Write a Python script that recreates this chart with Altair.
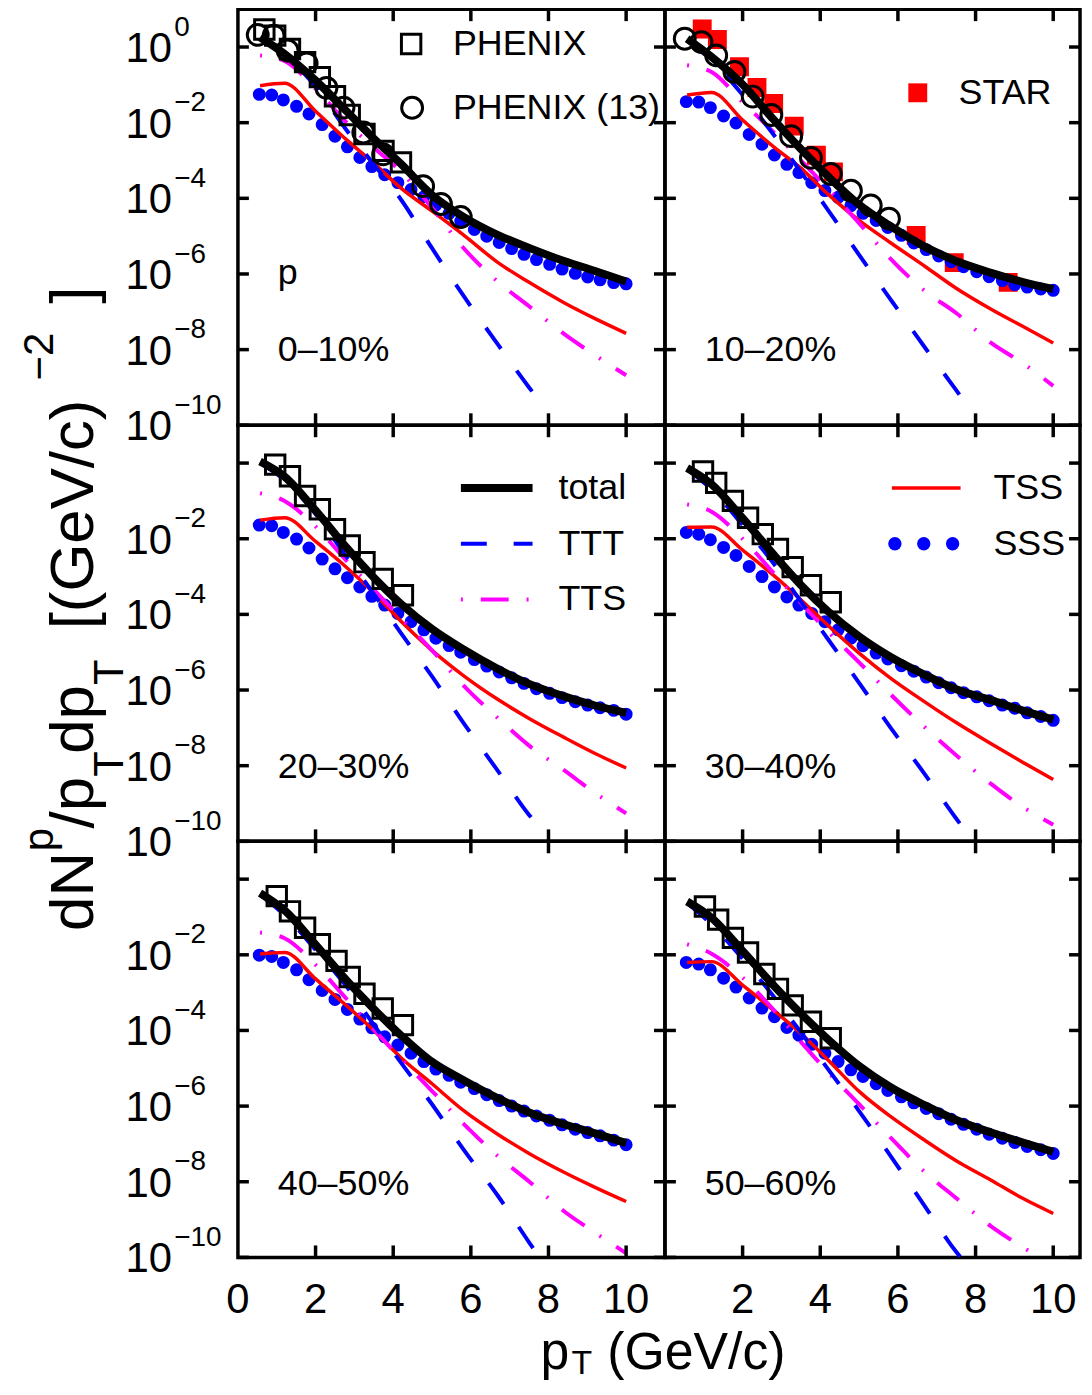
import altair as alt
import pandas as pd

FONT = "Liberation Sans"
WL, WR, H = 429, 417, 418
BLUE, RED, MAGENTA = "#0000ff", "#ff0000", "#ff00ff"

# ---------------- data ----------------
LINE_PT = [0.57, 1.2, 2.0, 2.8, 3.5, 4.2, 5.0, 5.8, 6.7, 7.5, 8.4, 9.2, 10.0]
SSS_PT = [0.55, 0.87, 1.17, 1.51, 1.83, 2.17, 2.5, 2.82, 3.14, 3.45, 3.78, 4.12, 4.46, 4.79, 5.1,
          5.44, 5.74, 6.09, 6.41, 6.73, 7.05, 7.37, 7.69, 8.03, 8.35, 8.69, 9.01, 9.33, 9.68, 10.0]

# 0-10%
TOTAL_A = [1.8, 0.66, 0.13, 0.020, 3.8e-3, 8.1e-4, 1.23e-4, 3.3e-5, 1.07e-5, 4.9e-6, 2.2e-6, 1.2e-6, 6.3e-7]
TTT_PT_A = [0.57, 1.2, 2.0, 2.8, 3.5, 4.2, 5.0, 5.8, 6.7, 7.5, 7.8]
TTT_A = [1.66, 0.63, 0.089, 6.3e-3, 7.9e-4, 9.3e-5, 4.8e-6, 2.75e-7, 1.35e-8, 1.0e-9, 4.0e-10]
TTS_A = [0.60, 0.43, 0.079, 0.010, 2.2e-3, 5.0e-4, 5.6e-5, 5.0e-6, 6.2e-7, 1.4e-7, 2.6e-8, 7.1e-9, 2.1e-9]
TSS_A = [0.095, 0.11, 0.020, 3.5e-3, 8.5e-4, 1.86e-4, 4.6e-5, 1.1e-5, 2.0e-6, 6.0e-7, 1.74e-7, 6.6e-8, 2.7e-8]
SSS_A = [5.6e-2, 5.4e-2, 4.0e-2, 2.7e-2, 1.7e-2, 8.9e-3, 4.4e-3, 2.3e-3, 1.2e-3, 6.9e-4, 4.2e-4, 2.6e-4,
         1.7e-4, 1.1e-4, 6.7e-5, 4.0e-5, 2.5e-5, 1.5e-5, 1.0e-5, 6.8e-6, 4.7e-6, 3.3e-6, 2.4e-6, 1.8e-6,
         1.35e-6, 1.04e-6, 8.3e-7, 7.0e-7, 5.9e-7, 5.5e-7]
PHENIX_PT_A = [0.68, 0.96, 1.34, 1.73, 2.11, 2.5, 2.88, 3.26, 3.75, 4.2]
PHENIX_A = [2.9, 2.0, 0.89, 0.40, 0.16, 0.050, 0.016, 5.0e-3, 1.8e-3, 8.9e-4]
PHENIX13_PT_A = [0.51, 0.92, 1.28, 1.77, 2.28, 2.72, 3.23, 3.74, 4.77, 5.23, 5.74]
PHENIX13_A = [2.1, 2.0, 0.81, 0.37, 0.083, 0.025, 5.5e-3, 1.45e-3, 2.1e-4, 7.1e-5, 3.2e-5]

# 10-20%
TOTAL_B = [1.66, 0.55, 0.102, 0.012, 2.0e-3, 3.8e-4, 6.8e-5, 1.86e-5, 5.2e-6, 2.2e-6, 1.07e-6, 6.2e-7, 4.0e-7]
TTT_PT_B = [0.57, 1.2, 2.0, 2.8, 3.5, 4.2, 5.0, 5.8, 6.7, 7.5, 7.82]
TTT_B = [1.48, 0.45, 0.054, 4.8e-3, 5.0e-4, 4.9e-5, 3.2e-6, 2.2e-7, 1.12e-8, 8.5e-10, 3.0e-10]
TTS_B = [0.33, 0.22, 0.035, 5.6e-3, 1.0e-3, 1.8e-4, 2.2e-5, 2.6e-6, 3.5e-7, 9.3e-8, 1.5e-8, 4.5e-9, 1.1e-9]
TSS_B = [0.054, 0.063, 0.0117, 2.3e-3, 6.3e-4, 1.29e-4, 2.6e-5, 6.8e-6, 1.58e-6, 4.2e-7, 1.17e-7, 4.2e-8, 1.5e-8]
SSS_B = [3.6e-2, 3.5e-2, 2.5e-2, 1.5e-2, 9.8e-3, 4.9e-3, 2.7e-3, 1.4e-3, 7.9e-4, 4.8e-4, 2.6e-4, 1.6e-4,
         1.06e-4, 6.4e-5, 4.0e-5, 2.6e-5, 1.7e-5, 1.05e-5, 6.6e-6, 4.4e-6, 3.0e-6, 2.1e-6, 1.56e-6, 1.15e-6,
         8.5e-7, 6.7e-7, 5.2e-7, 4.5e-7, 4.0e-7, 3.7e-7]
STAR_PT_B = [0.96, 1.35, 1.92, 2.37, 2.8, 3.33, 3.9, 4.34, 6.47, 7.45, 8.84]
STAR_B = [3.0, 1.58, 0.30, 0.085, 0.032, 8.1e-3, 1.38e-3, 5.0e-4, 1.05e-5, 2.0e-6, 6.0e-7]
PHENIX13_PT_B = [0.51, 0.94, 1.32, 1.79, 2.26, 2.74, 3.25, 3.76, 4.27, 4.79, 5.30, 5.77]
PHENIX13_B = [1.66, 1.35, 0.60, 0.22, 0.049, 0.016, 4.4e-3, 1.17e-3, 4.4e-4, 1.58e-4, 6.5e-5, 2.9e-5]

# 20-30%
TOTAL_C = [1.1, 0.44, 0.056, 5.8e-3, 9.5e-4, 1.9e-4, 4.1e-5, 1.2e-5, 3.6e-6, 1.45e-6, 6.8e-7, 3.9e-7, 2.5e-7]
TTT_PT_C = [0.57, 1.2, 2.0, 2.8, 3.5, 4.2, 5.0, 5.8, 6.7, 7.5, 7.79]
TTT_C = [1.0, 0.355, 0.045, 3.3e-3, 3.5e-4, 3.2e-5, 2.3e-6, 1.4e-7, 7.2e-9, 5.0e-10, 2.2e-10]
TTS_C = [0.16, 0.1, 0.021, 2.6e-3, 4.5e-4, 7.9e-5, 1.12e-5, 1.35e-6, 1.8e-7, 3.4e-8, 7.6e-9, 1.9e-9, 5.5e-10]
TSS_C = [0.031, 0.036, 8.5e-3, 1.74e-3, 3.7e-4, 6.6e-5, 1.12e-5, 2.45e-6, 5.6e-7, 1.78e-7, 5.6e-8, 2.1e-8, 8.7e-9]
SSS_C = [2.3e-2, 2.2e-2, 1.47e-2, 9.8e-3, 5.7e-3, 2.9e-3, 1.6e-3, 9.3e-4, 5.3e-4, 3.0e-4, 1.76e-4, 1.06e-4,
         6.4e-5, 3.9e-5, 2.35e-5, 1.5e-5, 1.0e-5, 6.4e-6, 4.3e-6, 3.0e-6, 2.1e-6, 1.5e-6, 1.08e-6, 8.2e-7,
         6.3e-7, 4.9e-7, 4.0e-7, 3.4e-7, 2.9e-7, 2.3e-7]
PHENIX_PT_C = [0.96, 1.34, 1.73, 2.11, 2.50, 2.88, 3.26, 3.73, 4.25]
PHENIX_C = [0.91, 0.45, 0.135, 0.060, 0.0178, 6.6e-3, 2.4e-3, 8.7e-4, 3.2e-4]

# 30-40%
TOTAL_D = [0.74, 0.275, 0.035, 3.8e-3, 6.0e-4, 1.2e-4, 2.6e-5, 7.6e-6, 2.5e-6, 1.05e-6, 5.4e-7, 2.9e-7, 1.65e-7]
TTT_PT_D = [0.57, 1.2, 2.0, 2.8, 3.5, 4.2, 5.0, 5.8, 6.7, 7.5, 7.78]
TTT_D = [0.68, 0.2, 0.023, 2.2e-3, 2.2e-4, 2.2e-5, 1.55e-6, 1.05e-7, 5.8e-9, 4.0e-10, 1.66e-10]
TTS_D = [0.081, 0.052, 0.01, 1.23e-3, 2.0e-4, 3.5e-5, 5.4e-6, 7.9e-7, 1.02e-7, 1.9e-8, 3.3e-9, 8.3e-10, 2.75e-10]
TSS_D = [0.020, 0.0204, 5.0e-3, 1.07e-3, 2.45e-4, 5.1e-5, 9.5e-6, 2.1e-6, 4.8e-7, 1.38e-7, 3.8e-8, 1.26e-8, 4.3e-9]
SSS_D = [1.47e-2, 1.32e-2, 9.4e-3, 5.9e-3, 3.6e-3, 1.85e-3, 1.0e-3, 5.3e-4, 2.9e-4, 1.76e-4, 1.06e-4, 6.4e-5,
         3.9e-5, 2.35e-5, 1.48e-5, 9.5e-6, 6.6e-6, 4.4e-6, 3.15e-6, 2.2e-6, 1.56e-6, 1.15e-6, 8.5e-7, 6.6e-7,
         5.2e-7, 4.0e-7, 3.3e-7, 2.5e-7, 2.0e-7, 1.58e-7]
PHENIX_PT_D = [0.98, 1.32, 1.75, 2.14, 2.52, 2.91, 3.29, 3.76, 4.27]
PHENIX_D = [0.60, 0.30, 0.1, 0.036, 0.0132, 5.4e-3, 1.78e-3, 5.9e-4, 2.1e-4]

# 40-50%
TOTAL_E = [0.43, 0.15, 0.0186, 2.1e-3, 3.7e-4, 7.4e-5, 1.48e-5, 4.9e-6, 1.6e-6, 6.8e-7, 3.3e-7, 1.9e-7, 1.05e-7]
TTT_PT_E = [0.57, 1.2, 2.0, 2.8, 3.5, 4.2, 5.0, 5.8, 6.7, 7.5, 7.8]
TTT_E = [0.39, 0.112, 0.0135, 1.45e-3, 1.41e-4, 1.41e-5, 1.12e-6, 7.4e-8, 4.2e-9, 2.5e-10, 8.9e-11]
TTS_E = [0.039, 0.0275, 5.4e-3, 6.8e-4, 1.07e-4, 1.78e-5, 2.5e-6, 3.5e-7, 4.7e-8, 1.02e-8, 1.66e-9, 4.5e-10, 1.29e-10]
TSS_E = [0.0105, 0.0115, 2.3e-3, 4.5e-4, 1.0e-4, 1.9e-5, 3.9e-6, 7.8e-7, 1.78e-7, 5.6e-8, 1.78e-8, 7.1e-9, 3.0e-9]
SSS_E = [9.8e-3, 9.0e-3, 6.3e-3, 4.0e-3, 2.2e-3, 1.14e-3, 6.6e-4, 3.6e-4, 2.0e-4, 1.17e-4, 6.8e-5, 4.1e-5,
         2.5e-5, 1.5e-5, 9.5e-6, 6.5e-6, 4.3e-6, 2.9e-6, 2.0e-6, 1.4e-6, 1.0e-6, 7.4e-7, 5.5e-7, 4.2e-7,
         3.2e-7, 2.45e-7, 2.0e-7, 1.64e-7, 1.26e-7, 9.5e-8]
PHENIX_PT_E = [1.0, 1.34, 1.73, 2.11, 2.54, 2.88, 3.26, 3.73, 4.25]
PHENIX_E = [0.355, 0.141, 0.052, 0.019, 6.9e-3, 2.6e-3, 9.3e-4, 3.8e-4, 1.38e-4]

# 50-60%
TOTAL_F = [0.257, 0.0955, 0.0126, 1.55e-3, 2.8e-4, 5.8e-5, 1.15e-5, 3.2e-6, 1.05e-6, 4.3e-7, 2.0e-7, 1.1e-7, 6.2e-8]
TTT_PT_F = [0.57, 1.2, 2.0, 2.8, 3.5, 4.2, 5.0, 5.8, 6.7, 7.5, 7.7]
TTT_F = [0.234, 0.063, 7.9e-3, 7.9e-4, 8.9e-5, 9.5e-6, 7.4e-7, 5.0e-8, 2.2e-9, 1.41e-10, 7.9e-11]
TTS_F = [0.019, 0.0107, 2.5e-3, 3.5e-4, 5.0e-5, 7.9e-6, 1.12e-6, 1.51e-7, 1.78e-8, 3.7e-9, 6.6e-10, 1.9e-10, 6.3e-11]
TSS_F = [6.3e-3, 6.6e-3, 1.58e-3, 3.4e-4, 8.3e-5, 1.66e-5, 2.45e-6, 5.4e-7, 1.23e-7, 3.6e-8, 1.1e-8, 3.7e-9, 1.45e-9]
SSS_F = [6.3e-3, 5.7e-3, 4.0e-3, 2.4e-3, 1.4e-3, 7.2e-4, 3.9e-4, 2.3e-4, 1.2e-4, 7.5e-5, 4.3e-5, 2.5e-5,
         1.5e-5, 9.1e-6, 6.1e-6, 3.9e-6, 2.6e-6, 1.76e-6, 1.22e-6, 8.7e-7, 6.3e-7, 4.5e-7, 3.3e-7, 2.45e-7,
         1.8e-7, 1.42e-7, 1.09e-7, 8.6e-8, 7.0e-8, 5.6e-8]
PHENIX_PT_F = [1.03, 1.37, 1.75, 2.14, 2.56, 2.91, 3.29, 3.76, 4.27]
PHENIX_F = [0.19, 0.085, 0.028, 0.0115, 3.1e-3, 1.26e-3, 4.6e-4, 1.7e-4, 6.2e-5]

# ticks and tick labels
Y_TICKS = [1.0, 1e-2, 1e-4, 1e-6, 1e-8, 1e-10]
X_TICKS = [2, 4, 6, 8, 10]
YLAB_TOP_V = [1.0, 1e-2, 1e-4, 1e-6, 1e-8, 1e-10]
YLAB_TOP_E = ["0", "\u22122", "\u22124", "\u22126", "\u22128", "\u221210"]
YLAB_LOW_V = [1e-2, 1e-4, 1e-6, 1e-8, 1e-10]
YLAB_LOW_E = ["\u22122", "\u22124", "\u22126", "\u22128", "\u221210"]
XLAB_LEFT = [0, 2, 4, 6, 8, 10]
XLAB_RIGHT = [2, 4, 6, 8, 10]

# ---------------- helpers ----------------
XS_L = alt.Scale(domain=[0, 11], nice=False, zero=False)
XS_R = alt.Scale(domain=[0, 10.69], nice=False, zero=False)
YS = alt.Scale(type="log", domain=[1e-10, 10], nice=False)
Y = alt.Y("v:Q", scale=YS, axis=None)
ONE = pd.DataFrame({"k": [0]})


def xenc(xs):
    return alt.X("pt:Q", scale=xs, axis=None)


def curve(xs, pt, v, color, width, dash=None):
    kw = dict(color=color, strokeWidth=width, clip=True, interpolate="monotone", strokeCap="butt")
    if dash is not None:
        kw["strokeDash"] = dash
    return alt.Chart(pd.DataFrame({"pt": pt, "v": v})).mark_line(**kw).encode(x=xenc(xs), y=Y)


def points(xs, pt, v, **mk):
    return alt.Chart(pd.DataFrame({"pt": pt, "v": v})).mark_point(
        opacity=1, clip=True, **mk).encode(x=xenc(xs), y=Y)


def dots(xs, pt, v):
    return alt.Chart(pd.DataFrame({"pt": pt, "v": v})).mark_circle(
        size=170, color=BLUE, opacity=1, clip=True).encode(x=xenc(xs), y=Y)


def note(text, x, y, size, align="left", baseline="alphabetic", angle=0):
    return alt.Chart(ONE).mark_text(text=text, fontSize=size, font=FONT, align=align,
                                    baseline=baseline, angle=angle, color="black").encode(
        x=alt.value(x), y=alt.value(y))


def sym(x, y, **mk):
    return alt.Chart(ONE).mark_point(**mk).encode(x=alt.value(x), y=alt.value(y))


def hline(x1, x2, y, **mk):
    return alt.Chart(ONE).mark_rule(**mk).encode(x=alt.value(x1), x2=alt.value(x2), y=alt.value(y))


def frame_ticks(xs, w):
    ydf = pd.DataFrame({"v": Y_TICKS})
    xdf = pd.DataFrame({"pt": X_TICKS})
    st = dict(color="black", strokeWidth=3.5)
    X = xenc(xs)
    return [
        alt.Chart(ydf).mark_rule(**st).encode(y=Y, x=alt.value(0), x2=alt.value(11)),
        alt.Chart(ydf).mark_rule(**st).encode(y=Y, x=alt.value(w - 11), x2=alt.value(w)),
        alt.Chart(xdf).mark_rule(**st).encode(x=X, y=alt.value(H - 12), y2=alt.value(H)),
        alt.Chart(xdf).mark_rule(**st).encode(x=X, y=alt.value(0), y2=alt.value(12)),
    ]


def ylabels(vals, exps):
    df = pd.DataFrame({"v": vals, "e": exps})
    base = alt.Chart(df).mark_text(text="10", fontSize=42, font=FONT, align="left",
                                   baseline="alphabetic", dy=15, color="black").encode(
        y=Y, x=alt.value(-113))
    sup = alt.Chart(df).mark_text(fontSize=28, font=FONT, align="left",
                                  baseline="alphabetic", dy=-11.5, color="black").encode(
        y=Y, x=alt.value(-64), text="e:N")
    return [base, sup]


def xlabels(xs, vals):
    df = pd.DataFrame({"pt": vals, "lab": [str(v) for v in vals]})
    return [alt.Chart(df).mark_text(fontSize=42, font=FONT, align="center",
                                    baseline="alphabetic", color="black").encode(
        x=xenc(xs), y=alt.value(H + 56), text="lab:N")]


def panel(xs, w, total, ttt_pt, ttt, tts, tss, sss, phenix=None, phenix13=None, star=None, extra=()):
    layers = []
    if star is not None:
        layers.append(points(xs, star[0], star[1], shape="square", size=360, filled=True, color=RED))
    layers += [
        dots(xs, SSS_PT, sss),
        curve(xs, LINE_PT, tss, RED, 3.5),
        curve(xs, LINE_PT, tts, MAGENTA, 4, [2, 18, 28, 18]),
        curve(xs, ttt_pt, ttt, BLUE, 4, [26, 27]),
        curve(xs, LINE_PT, total, "black", 8),
    ]
    if phenix is not None:
        layers.append(points(xs, phenix[0], phenix[1], shape="square", size=380, filled=False,
                             color="black", strokeWidth=3))
    if phenix13 is not None:
        layers.append(points(xs, phenix13[0], phenix13[1], shape="circle", size=440, filled=False,
                             color="black", strokeWidth=3))
    layers += frame_ticks(xs, w)
    layers += list(extra)
    return alt.layer(*layers).properties(width=w, height=H)


# ---------------- annotations ----------------
ann_A = [
    sym(174, 35, shape="square", size=380, filled=False, color="black", strokeWidth=3, opacity=1),
    note("PHENIX", 216, 35, 36, baseline="middle"),
    sym(175, 99, shape="circle", size=440, filled=False, color="black", strokeWidth=3, opacity=1),
    note("PHENIX (13)", 216, 99, 36, baseline="middle"),
    note("p", 40, 276, 36),
    note("0\u201310%", 40, 353, 36),
] + ylabels(YLAB_TOP_V, YLAB_TOP_E)

ann_B = [
    sym(254, 84, shape="square", size=360, filled=True, color=RED, opacity=1),
    note("STAR", 295, 84, 36, baseline="middle"),
    note("10\u201320%", 40, 353, 36),
]

YT_MAIN, YT_SUP, YT_SUB = -146, -186, -115
ann_C = [
    hline(224, 296, 63, color="black", strokeWidth=8),
    note("total", 322, 63, 36, baseline="middle"),
    hline(224, 296, 119, color=BLUE, strokeWidth=4, strokeDash=[26, 27]),
    note("TTT", 322, 119, 36, baseline="middle"),
    hline(224, 296, 175, color=MAGENTA, strokeWidth=4, strokeDash=[2, 18, 28, 18]),
    note("TTS", 322, 175, 36, baseline="middle"),
    note("20\u201330%", 40, 354, 36),
    # rotated y-axis title, composed of pieces
    note("dN", YT_MAIN, 508, 62, angle=270),
    note("p", YT_SUP, 428, 42, angle=270),
    note("/p", YT_MAIN, 405, 62, angle=270),
    note("T", YT_SUB, 353, 42, angle=270),
    note("dp", YT_MAIN, 330, 62, angle=270),
    note("T", YT_SUB, 261, 42, angle=270),
    note("[(GeV/c)", YT_MAIN, 205, 62, angle=270),
    note("\u22122", YT_SUP, -45, 42, angle=270),
    note("]", YT_MAIN, -122, 62, angle=270),
    sym(-228, 200, size=4, opacity=0),
] + ylabels(YLAB_LOW_V, YLAB_LOW_E)

ann_D = [
    hline(228, 297, 63, color=RED, strokeWidth=3.5),
    note("TSS", 330, 63, 36, baseline="middle"),
    sym(231, 119, shape="circle", size=180, filled=True, color=BLUE, opacity=1),
    sym(260, 119, shape="circle", size=180, filled=True, color=BLUE, opacity=1),
    sym(289, 119, shape="circle", size=180, filled=True, color=BLUE, opacity=1),
    note("SSS", 330, 119, 36, baseline="middle"),
    note("30\u201340%", 40, 354, 36),
]

ann_E = [
    note("40\u201350%", 40, 355, 36),
    note("p", 304, H + 112, 52),
    note("T", 335, H + 117, 34),
    note("(GeV/c)", 371, H + 112, 52),
] + ylabels(YLAB_LOW_V, YLAB_LOW_E) + xlabels(XS_L, XLAB_LEFT)

ann_F = [
    note("50\u201360%", 40, 355, 36),
] + xlabels(XS_R, XLAB_RIGHT)

pA = panel(XS_L, WL, TOTAL_A, TTT_PT_A, TTT_A, TTS_A, TSS_A, SSS_A,
           phenix=(PHENIX_PT_A, PHENIX_A), phenix13=(PHENIX13_PT_A, PHENIX13_A), extra=ann_A)
pB = panel(XS_R, WR, TOTAL_B, TTT_PT_B, TTT_B, TTS_B, TSS_B, SSS_B,
           phenix13=(PHENIX13_PT_B, PHENIX13_B), star=(STAR_PT_B, STAR_B), extra=ann_B)
pC = panel(XS_L, WL, TOTAL_C, TTT_PT_C, TTT_C, TTS_C, TSS_C, SSS_C,
           phenix=(PHENIX_PT_C, PHENIX_C), extra=ann_C)
pD = panel(XS_R, WR, TOTAL_D, TTT_PT_D, TTT_D, TTS_D, TSS_D, SSS_D,
           phenix=(PHENIX_PT_D, PHENIX_D), extra=ann_D)
pE = panel(XS_L, WL, TOTAL_E, TTT_PT_E, TTT_E, TTS_E, TSS_E, SSS_E,
           phenix=(PHENIX_PT_E, PHENIX_E), extra=ann_E)
pF = panel(XS_R, WR, TOTAL_F, TTT_PT_F, TTT_F, TTS_F, TSS_F, SSS_F,
           phenix=(PHENIX_PT_F, PHENIX_F), extra=ann_F)

chart = alt.concat(pA, pB, pC, pD, pE, pF, columns=2, spacing=0, bounds="flush", align="each").properties(
    padding={"top": -6, "left": 0, "right": 0, "bottom": 0}
).configure(
    font=FONT, view=alt.ViewConfig(stroke="black", strokeWidth=3.5)
)

chart.save("out.html", embed_options={"renderer": "svg", "actions": False})
